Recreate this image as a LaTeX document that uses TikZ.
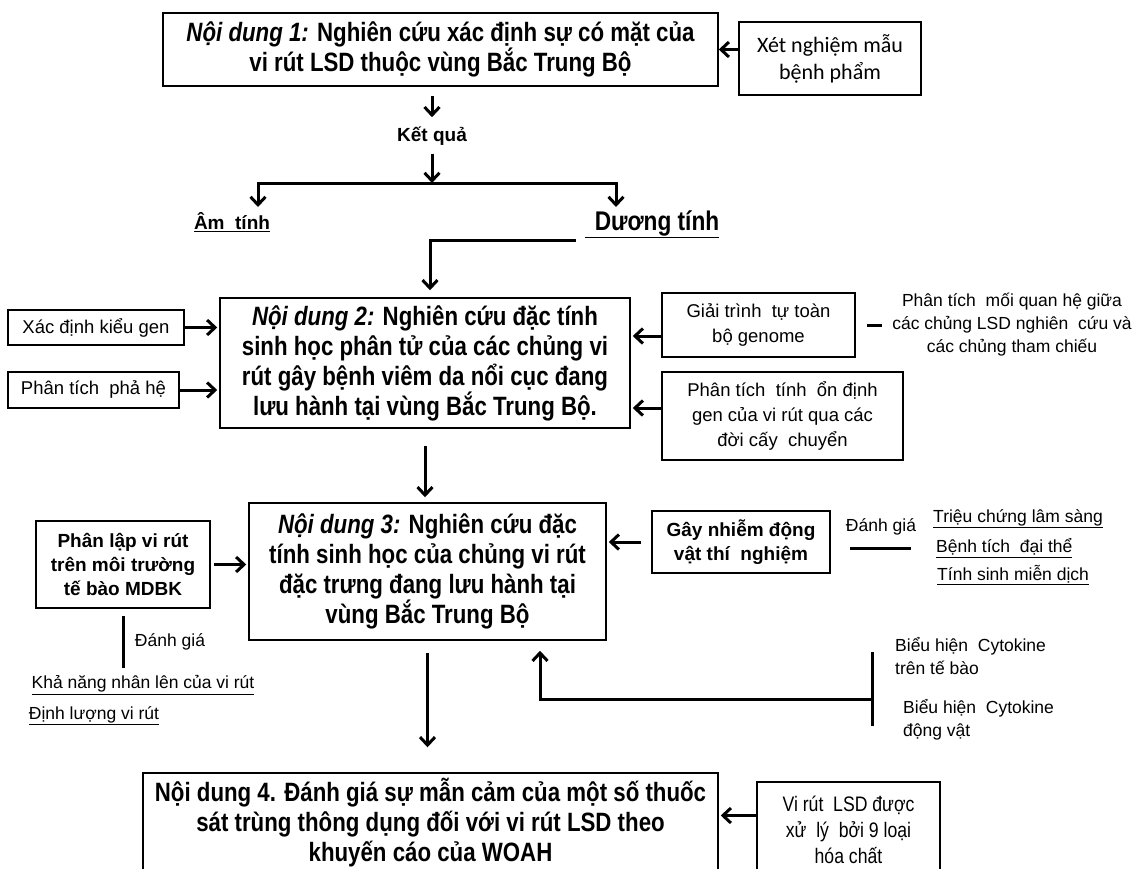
\documentclass[tikz,border=0pt]{standalone}
\usepackage{fontspec}
\setmainfont{Liberation Sans}
\newfontfamily\narrowsans[FakeStretch=0.84]{Liberation Sans}
\newfontfamily\calsans{Carlito}
\usetikzlibrary{arrows.meta,positioning,calc}

\newcommand{\headtxt}{\narrowsans\bfseries\fontsize{26.5}{30}\selectfont}
\newcommand{\smalltxt}{\fontsize{18.5}{25}\selectfont}
\newcommand{\notetxt}{\fontsize{17.5}{23}\selectfont}
\newcommand{\boldtxt}{\bfseries\fontsize{19}{24}\selectfont}

\tikzset{
  box/.style={draw, line width=1.5pt, inner sep=0pt, align=center},
  note/.style={font=\notetxt, inner sep=1pt},
  arr/.style={-{Straight Barb[length=8pt,width=15pt,line width=3pt]}, line width=3pt},
  bar/.style={line width=3pt},
}

\begin{document}
\begin{tikzpicture}[x=1pt,y=-1pt]
    \useasboundingbox (0,0) rectangle (1132,868);

    %%%% Noi dung 1 =================================
    \node[box,minimum width=555,minimum height=73,font=\headtxt] (nd1) at (440.5,49.5)
        {\textit{Nội dung 1:} Nghiên cứu xác định sự có mặt của\\vi rút LSD thuộc vùng Bắc Trung Bộ};
    \node[box,minimum width=182,minimum height=73,font=\calsans\fontsize{22}{27}\selectfont] (xn) at (830,58.5)
        {Xét nghiệm mẫu\\bệnh phẩm};
    \draw[arr] (xn.west |- nd1.east) -- (nd1.east);

    % Ket qua
    \node[font=\boldtxt] (kq) at (432,136) {Kết quả};
    \node[font=\boldtxt] (am) at (232,222) {\underline{Âm\ \ tính}};
    \node[font=\narrowsans\bfseries\fontsize{27}{30}\selectfont] (duong) at (652,224)
        {\underline{\hspace{10pt}Dương tính}};
    \coordinate (split) at (432,183);
    \coordinate (amtip) at (258,207);
    \coordinate (duongtip) at (616,207);
    \coordinate (dlink) at (576,240);

    \draw[arr,shorten <=9pt,shorten >=6pt] (kq |- nd1.south) -- (kq.north);
    \draw[arr,shorten <=5pt] (kq.south) -- (split);
    \draw[arr] (split) -| (amtip);
    \draw[arr] (split) -| (duongtip);

    %%%% Noi dung 2 =================================
    \node[box,minimum width=410,minimum height=130,font=\headtxt] (nd2) at (425,363)
        {\textit{Nội dung 2:} Nghiên cứu đặc tính\\sinh học phân tử của các chủng vi\\rút gây bệnh viêm da nổi cục đang\\lưu hành tại vùng Bắc Trung Bộ.};
    \draw[arr] (dlink) -| ([xshift=5pt,yshift=7pt]nd2.north);

    % Left
    \node[box,minimum width=176,minimum height=35,font=\smalltxt] (kieugen) at (96,327.5) {Xác định kiểu gen};
    \node[box,minimum width=171,minimum height=36,font=\smalltxt] (phahe) at (93.5,390) {Phân tích\ \ phả hệ};
    \draw[arr,shorten >=2pt] (kieugen.east) -- (kieugen.east -| nd2.west);
    \draw[arr,shorten >=2pt] (phahe.east) -- (phahe.east -| nd2.west);

    % Right
    \node[box,minimum width=193,minimum height=64,font=\smalltxt] (genome) at (758.5,325)
        {Giải trình\ \ tự toàn\\bộ genome};
    \node[box,minimum width=241,minimum height=88,font=\smalltxt] (ondinh) at (782.5,416)
        {Phân tích\ \ tính\ \ ổn định\\gen của vi rút qua các\\đời cấy\ \ chuyển};
    \node[note,align=center] (quanhe) at (1012,325)
        {Phân tích\ \ mối quan hệ giữa\\các chủng LSD nghiên\ \ cứu và\\các chủng tham chiếu};
    \draw[arr,shorten >=2pt] ([yshift=-11pt]genome.west) -- ([yshift=-11pt]genome.west -| nd2.east);
    \draw[arr,shorten >=2pt] ([yshift=8pt]ondinh.west) -- ([yshift=8pt]ondinh.west -| nd2.east);
    \draw[bar] ($(genome.east)+(11,0)$) -- ($(quanhe.west)+(-9,0)$);

    %%%% Noi dung 3 =================================
    \node[box,minimum width=357,minimum height=137,font=\headtxt] (nd3) at (427.5,571.5)
        {\textit{Nội dung 3:} Nghiên cứu đặc\\tính sinh học của chủng vi rút\\đặc trưng đang lưu hành tại\\vùng Bắc Trung Bộ};
    \draw[arr,shorten <=17pt,shorten >=5pt] (nd2.south) -- (nd2.south |- nd3.north);

    % Left
    \node[box,minimum width=174,minimum height=87,font=\boldtxt] (phanlap) at (123,564.5)
        {Phân lập vi rút\\trên môi trường\\tế bào MDBK};
    \coordinate (dgbot) at (123,668);
    \draw[arr,shorten <=3pt,shorten >=2pt] (phanlap.east) -- (phanlap.east -| nd3.west);
    \draw[bar,shorten <=7pt] (phanlap.south) -- (dgbot);
    \node[note] (danhgia1) at (170,642) {Đánh giá};
    \node[note] (nhanlen) at (143,685) {\underline{Khả năng nhân lên của vi rút}};
    \node[note] (dinhluong) at (94,716) {\underline{Định lượng vi rút}};

    % Right
    \node[box,minimum width=178,minimum height=62,font=\boldtxt] (gaynhiem) at (741,542)
        {Gây nhiễm động\\vật thí\ \ nghiệm};
    \draw[arr,shorten <=10pt,shorten >=2pt] (gaynhiem.west) -- (gaynhiem.west -| nd3.east);
    \node[note] (danhgia2) at (881,527) {Đánh giá};
    \coordinate (dgl) at (850,548);
    \coordinate (dgr) at (911,548);
    \draw[bar] (dgl) -- (dgr);
    \node[note,anchor=west] (trieuchung) at (932,519) {\underline{Triệu chứng lâm sàng}};
    \node[note,anchor=west] (benhtich) at (935,548) {\underline{Bệnh tích\ \ đại thể}};
    \node[note,anchor=west] (sinhmd) at (936,575) {\underline{Tính sinh miễn dịch}};

    % Cytokine
    \node[note,anchor=west,align=left] (cytotb) at (894,656) {Biểu hiện\ \ Cytokine\\trên tế bào};
    \node[note,anchor=west,align=left] (cytodv) at (902,720) {Biểu hiện\ \ Cytokine\\động vật};
    \coordinate (cytotop) at (872,652);
    \coordinate (cytobot) at (872,726);
    \coordinate (cytomid) at (872,699);
    \draw[bar] (cytotop) -- (cytobot);
    \draw[arr] (cytomid) -| ($(nd3.south)+(112.5,10)$);

    %%%% Noi dung 4 =================================
    \node[box,minimum width=575,minimum height=100,font=\headtxt] (nd4) at (430.5,823)
        {Nội dung 4. Đánh giá sự mẫn cảm của một số thuốc\\sát trùng thông dụng đối với vi rút LSD theo\\khuyến cáo của WOAH};
    \draw[arr,shorten <=12pt,shorten >=25pt] (nd3.south) -- (nd3.south |- nd4.north);
    \node[box,minimum width=183,minimum height=95,font=\narrowsans\fontsize{21}{26}\selectfont] (hoachat) at (848.5,829.5)
        {Vi rút\ \ LSD được\\xử\ \ lý\ \ bởi 9 loại\\hóa chất};
    \draw[arr,shorten >=2pt] ([yshift=14pt]hoachat.west) -- ([yshift=14pt]hoachat.west -| nd4.east);
\end{tikzpicture}
\end{document}
